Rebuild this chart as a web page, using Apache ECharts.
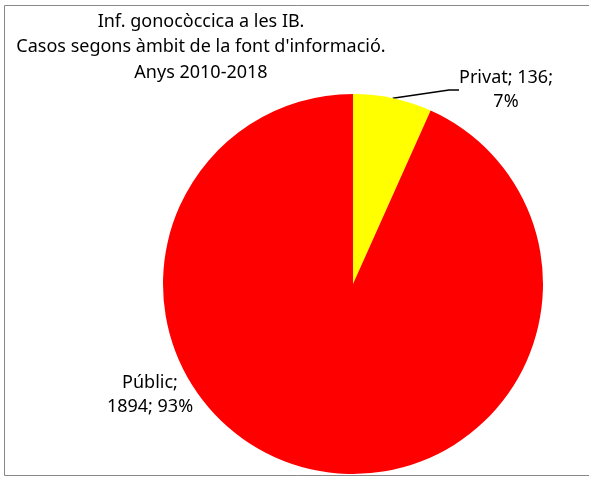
<!DOCTYPE html>
<html>
<head>
<meta charset="utf-8">
<script src="https://cdn.jsdelivr.net/npm/echarts@6/dist/echarts.min.js"></script>
<style>
  html, body { margin: 0; padding: 0; background: #fff; }
  #chart { width: 589px; height: 477px; }
</style>
</head>
<body>
<div id="chart"></div>
<script>
const titleLines = ['Inf. gonocòccica a les IB.', "Casos segons àmbit de la font d'informació.", 'Anys 2010-2018']
const categories = ['Privat', 'Públic']
const cases = [136, 1894]
const percents = ['7%', '93%']
const colors = ['#ffff00', '#ff0000']

const chart = echarts.init(document.getElementById('chart'))

const pieData = categories.map((name, i) => {
  const item = {
    name: name,
    value: cases[i],
    itemStyle: { color: colors[i] }
  }
  if (i === 0) {
    item.label = { formatter: name + '; ' + cases[i] + ';\n' + percents[i] }
  } else {
    item.label = { formatter: name + ';\n' + cases[i] + '; ' + percents[i] }
    item.labelLine = { show: false }
  }
  return item
})

chart.setOption({
  animation: false,
  graphic: [
    {
      type: 'rect',
      shape: { x: 4.5, y: 5.5, width: 620, height: 470 },
      style: { fill: 'none', stroke: '#888', lineWidth: 1 },
      z: -1
    },
    {
      type: 'text',
      style: {
        text: titleLines.join('\n'),
        x: 201,
        y: 9,
        textAlign: 'center',
        fontFamily: 'Noto Sans',
        fontSize: 18,
        lineHeight: 25.5,
        fill: '#000'
      }
    }
  ],
  series: [
    {
      type: 'pie',
      center: [353, 284],
      radius: 190,
      startAngle: 90,
      clockwise: true,
      data: pieData,
      label: {
        show: true,
        position: 'outside',
        color: '#000',
        fontFamily: 'Noto Sans',
        fontSize: 18,
        lineHeight: 24,
        align: 'center'
      },
      labelLine: {
        show: true,
        length: 10,
        length2: 10,
        lineStyle: { color: '#000', width: 1.5 }
      },
      labelLayout: function (params) {
        if (params.dataIndex === 0) {
          return { x: 506, y: 90, align: 'center', verticalAlign: 'middle' }
        }
        return { x: 150, y: 395, align: 'center', verticalAlign: 'middle' }
      },
      emphasis: { disabled: true }
    }
  ]
})
</script>
</body>
</html>
